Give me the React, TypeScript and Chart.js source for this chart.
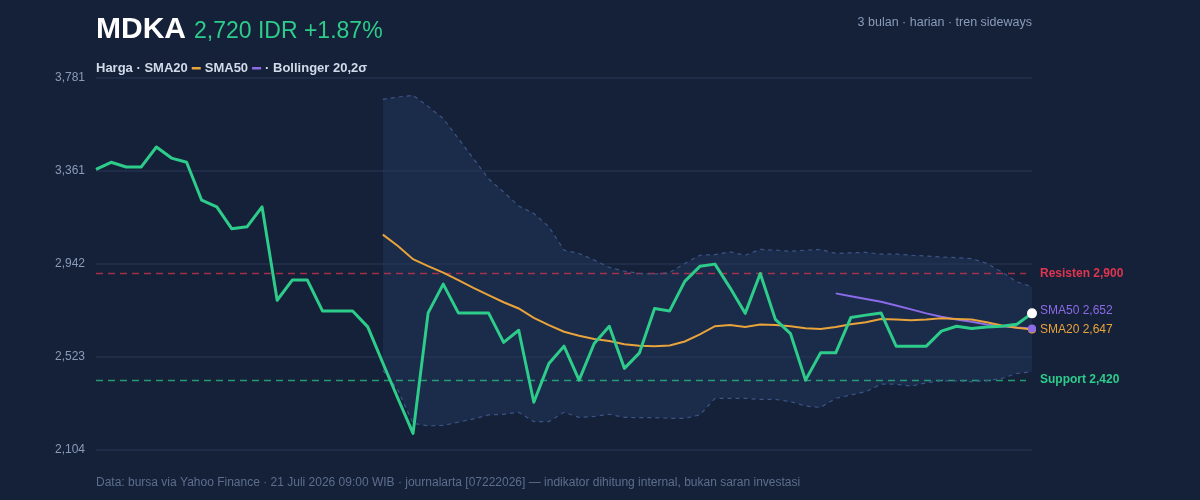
import React, { useEffect, useRef } from "react";
import { Chart, registerables } from "chart.js";

Chart.register(...registerables);

const TICKER = "MDKA";
const PRICE_TEXT = "2,720 IDR +1.87%";
const SUBTITLE = "3 bulan · harian · tren sideways";
const FOOTER = "Data: bursa via Yahoo Finance · 21 Juli 2026 09:00 WIB · journalarta [07222026] — indikator dihitung internal, bukan saran investasi";

const days: string[] = Array.from({ length: 63 }, (_, i) => `D${i + 1}`);

const price: number[] = [
  3369, 3401, 3380, 3380, 3470, 3420, 3401, 3230, 3200, 3101,
  3110, 3200, 2779, 2870, 2870, 2731, 2731, 2731, 2659, 2496,
  2336, 2179, 2722, 2852, 2722, 2722, 2722, 2589, 2644, 2319,
  2494, 2572, 2419, 2584, 2662, 2472, 2542, 2742, 2731, 2864,
  2932, 2942, 2835, 2720, 2900, 2693, 2629, 2419, 2542, 2542,
  2701, 2712, 2722, 2572, 2572, 2572, 2640, 2662, 2652, 2659,
  2662, 2671, 2720,
];

const N = null;
const sma20: (number | null)[] = [
  N, N, N, N, N, N, N, N, N, N, N, N, N, N, N, N, N, N, N,
  3075, 3024, 2964, 2933, 2904, 2870, 2835, 2802, 2770, 2742, 2700,
  2667, 2637, 2619, 2604, 2595, 2581, 2574, 2572, 2575, 2593,
  2625, 2662, 2668, 2659, 2670, 2668, 2662, 2653, 2650, 2659,
  2671, 2680, 2695, 2692, 2689, 2692, 2698, 2695, 2692, 2680,
  2665, 2655, 2647,
];

const sma50: (number | null)[] = [
  N, N, N, N, N, N, N, N, N, N, N, N, N, N, N, N, N, N, N, N,
  N, N, N, N, N, N, N, N, N, N, N, N, N, N, N, N, N, N, N, N,
  N, N, N, N, N, N, N, N, N,
  2810, 2797, 2785, 2772, 2755, 2738, 2720, 2705, 2692, 2682,
  2670, 2662, 2656, 2652,
];

const bbUpper: (number | null)[] = [
  N, N, N, N, N, N, N, N, N, N, N, N, N, N, N, N, N, N, N,
  3685, 3695, 3703, 3653, 3598, 3508, 3418, 3327, 3267, 3204, 3170,
  3110, 3005, 2990, 2960, 2927, 2910, 2900, 2897, 2904, 2945,
  2982, 2985, 2997, 2982, 3008, 3005, 3000, 3005, 3008, 2990,
  2993, 2995, 2987, 2987, 2982, 2978, 2974, 2971, 2967, 2945,
  2907, 2862, 2840,
];

const bbLower: (number | null)[] = [
  N, N, N, N, N, N, N, N, N, N, N, N, N, N, N, N, N, N, N,
  2464, 2374, 2224, 2213, 2215, 2229, 2244, 2262, 2265, 2274, 2232,
  2232, 2274, 2251, 2255, 2265, 2251, 2250, 2250, 2247, 2247,
  2262, 2337, 2337, 2337, 2332, 2332, 2322, 2302, 2296, 2337,
  2352, 2367, 2401, 2401, 2392, 2407, 2416, 2415, 2412, 2416,
  2427, 2449, 2457,
];

const RESISTANCE = 2900;
const SUPPORT = 2420;
const Y_MIN = 2104;
const Y_MAX = 3781;
const yTickLabels: string[] = ["2,104", "2,523", "2,942", "3,361", "3,781"];

const BG = "#152139";
const GREEN = "#2ecc8a";
const ORANGE = "#e8a33a";
const PURPLE = "#8b6be8";
const RED = "#e0344f";
const FONT = "'Liberation Sans', Arial, Helvetica, sans-serif";

const overlay = {
  id: "overlay",
  beforeDatasetsDraw(chart: any) {
    const { ctx, chartArea, scales } = chart;
    const y = scales.y;
    ctx.save();
    const drawLevel = (v: number, color: string) => {
      const py = Math.round(y.getPixelForValue(v)) + 0.5;
      ctx.strokeStyle = color;
      ctx.lineWidth = 1.3;
      ctx.setLineDash([7, 5]);
      ctx.beginPath();
      ctx.moveTo(chartArea.left, py);
      ctx.lineTo(chartArea.right - 6, py);
      ctx.stroke();
    };
    drawLevel(RESISTANCE, "rgba(224,52,79,0.7)");
    drawLevel(SUPPORT, "rgba(46,204,138,0.7)");
    ctx.restore();
  },
  afterDraw(chart: any) {
    const { ctx, chartArea, scales } = chart;
    const x = scales.x;
    const y = scales.y;
    ctx.save();
    // header
    ctx.textBaseline = "alphabetic";
    ctx.textAlign = "left";
    ctx.fillStyle = "#ffffff";
    ctx.font = `bold 30px ${FONT}`;
    ctx.fillText(TICKER, 96, 38);
    const tw = ctx.measureText(TICKER).width;
    ctx.fillStyle = GREEN;
    ctx.font = `23px ${FONT}`;
    ctx.fillText(PRICE_TEXT, 96 + tw + 8, 38);

    ctx.textAlign = "right";
    ctx.fillStyle = "#8a9bb8";
    ctx.font = `12.5px ${FONT}`;
    ctx.fillText(SUBTITLE, 1032, 26);

    // legend line
    ctx.textAlign = "left";
    ctx.font = `bold 13px ${FONT}`;
    let lx = 96;
    const ly = 72;
    const seg = (t: string) => {
      ctx.fillStyle = "#d3dbea";
      ctx.fillText(t, lx, ly);
      lx += ctx.measureText(t).width;
    };
    const swatch = (c: string) => {
      ctx.fillStyle = c;
      ctx.fillRect(lx + 4, ly - 5, 9, 2.5);
      lx += 17;
    };
    seg("Harga · SMA20");
    swatch(ORANGE);
    seg("SMA50");
    swatch(PURPLE);
    seg("· Bollinger 20,2σ");

    // footer
    ctx.font = `12px ${FONT}`;
    ctx.fillStyle = "#5d6e8d";
    ctx.fillText(FOOTER, 96, 486);

    // end markers
    const last = days.length - 1;
    const ex = x.getPixelForValue(last);
    const dot = (v: number, r: number, c: string) => {
      ctx.beginPath();
      ctx.arc(ex, y.getPixelForValue(v), r, 0, Math.PI * 2);
      ctx.fillStyle = c;
      ctx.fill();
    };
    dot(sma20[last] as number, 4, ORANGE);
    dot(sma50[last] as number, 4, PURPLE);
    dot(price[last], 5, "#ffffff");

    // right labels
    ctx.textBaseline = "middle";
    ctx.textAlign = "left";
    const rx = chartArea.right + 8;
    ctx.font = `bold 12px ${FONT}`;
    ctx.fillStyle = RED;
    ctx.fillText(`Resisten ${RESISTANCE.toLocaleString("en-US")}`, rx, y.getPixelForValue(RESISTANCE));
    ctx.fillStyle = GREEN;
    ctx.fillText(`Support ${SUPPORT.toLocaleString("en-US")}`, rx, y.getPixelForValue(SUPPORT));
    ctx.font = `12px ${FONT}`;
    const s50 = sma50[last] as number;
    const s20 = sma20[last] as number;
    ctx.fillStyle = PURPLE;
    ctx.fillText(`SMA50 ${s50.toLocaleString("en-US")}`, rx, y.getPixelForValue(s50) - 18);
    ctx.fillStyle = ORANGE;
    ctx.fillText(`SMA20 ${s20.toLocaleString("en-US")}`, rx, y.getPixelForValue(s20));
    ctx.restore();
  },
};

export default function App() {
  const ref = useRef<HTMLCanvasElement | null>(null);

  useEffect(() => {
    document.body.style.margin = "0";
    document.body.style.background = BG;
    const canvas = ref.current;
    if (!canvas) return;
    const chart = new Chart(canvas, {
      type: "line",
      data: {
        labels: days,
        datasets: [
          {
            label: "Harga",
            data: price,
            borderColor: GREEN,
            borderWidth: 3,
            pointRadius: 0,
            fill: false,
            tension: 0,
            borderJoinStyle: "round",
          },
          {
            label: "SMA20",
            data: sma20,
            borderColor: ORANGE,
            borderWidth: 2,
            pointRadius: 0,
            fill: false,
            tension: 0,
          },
          {
            label: "SMA50",
            data: sma50,
            borderColor: PURPLE,
            borderWidth: 2,
            pointRadius: 0,
            fill: false,
            tension: 0,
          },
          {
            label: "BB upper",
            data: bbUpper,
            borderColor: "#3b5585",
            borderWidth: 1.2,
            borderDash: [4, 4],
            pointRadius: 0,
            fill: false,
            tension: 0,
          },
          {
            label: "BB lower",
            data: bbLower,
            borderColor: "#3b5585",
            borderWidth: 1.2,
            borderDash: [4, 4],
            pointRadius: 0,
            fill: "-1",
            backgroundColor: "rgba(36,56,96,0.45)",
            tension: 0,
          },
        ],
      },
      options: {
        responsive: false,
        animation: false,
        events: [],
        layout: { padding: { left: 0, right: 168, top: 78, bottom: 50 } },
        plugins: {
          legend: { display: false },
          tooltip: { enabled: false },
          filler: { drawTime: "beforeDatasetsDraw" },
        },
        scales: {
          x: {
            display: false,
            offset: false,
          },
          y: {
            min: Y_MIN,
            max: Y_MAX,
            afterFit(scale: any) {
              scale.width = 96;
            },
            afterBuildTicks(scale: any) {
              const step = (Y_MAX - Y_MIN) / (yTickLabels.length - 1);
              scale.ticks = yTickLabels.map((_, i) => ({ value: Y_MIN + i * step }));
            },
            ticks: {
              padding: 11,
              color: "#8a9bb8",
              font: { size: 12, family: FONT },
              callback: (_v: any, i: number) => yTickLabels[i],
            },
            grid: {
              color: "#1f2c47",
              lineWidth: 2,
              drawTicks: false,
            },
            border: { display: false },
          },
        },
      },
      plugins: [overlay],
    } as any);
    return () => chart.destroy();
  }, []);

  return (
    <div style={{ width: 1200, height: 500, background: BG }}>
      <canvas ref={ref} width={1200} height={500} style={{ display: "block" }} />
    </div>
  );
}
